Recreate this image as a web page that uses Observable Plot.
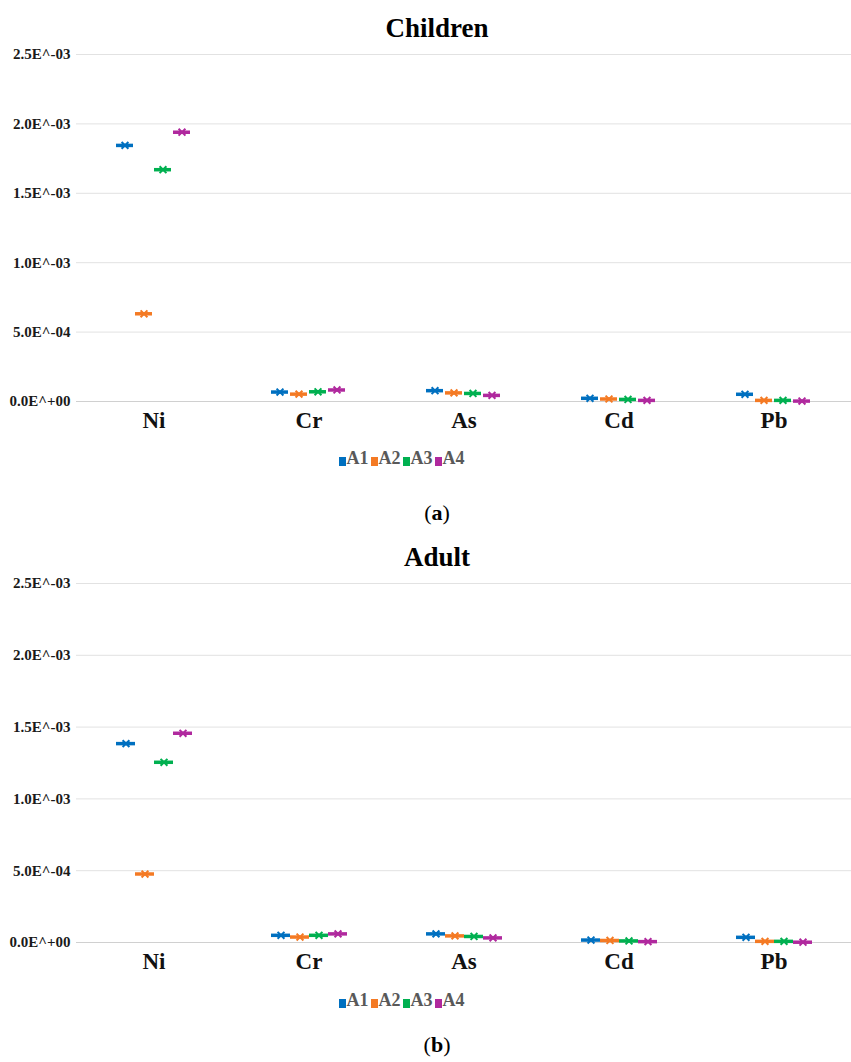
<!DOCTYPE html>
<html><head><meta charset="utf-8">
<script src="https://cdn.jsdelivr.net/npm/d3@7"></script>
<script src="https://cdn.jsdelivr.net/npm/@observablehq/plot@0.6"></script>
<style>
body{margin:0;background:#fff;}
#page{position:relative;width:851px;height:1062px;font-family:"Liberation Serif","Times New Roman",serif;}
.abs{position:absolute;left:0;}
.title{width:851px;padding-left:23px;box-sizing:border-box;text-align:center;font-weight:bold;font-size:27px;line-height:30px;color:#000;}
.legend{width:851px;display:flex;justify-content:center;align-items:center;font-weight:bold;font-size:18px;line-height:22px;color:#595959;padding-right:50px;box-sizing:border-box;}
.legend span.sw{display:inline-block;width:7px;height:9px;margin:0 1px 0 2px;position:relative;top:3px;}
.cap{width:851px;padding-left:23px;box-sizing:border-box;text-align:center;font-size:22px;line-height:26px;color:#000;}
svg text{font-family:"Liberation Serif","Times New Roman",serif;}
g[aria-label="y-axis tick label"] text{font-size:15px;font-weight:bold;fill:#1a1a1a;}
g[aria-label="fx-axis tick label"] text{font-size:23px;font-weight:bold;fill:#111;}
</style></head><body><div id="page"></div>
<script>
const categories = ["Ni", "Cr", "As", "Cd", "Pb"];
const series = ["A1", "A2", "A3", "A4"];
const colors = ["#0070C0", "#F47A24", "#00B050", "#B0299E"];
const yTicks = [0, 0.0005, 0.001, 0.0015, 0.002, 0.0025];

// Children (a)
const childrenA1 = [1.845e-3, 6.8e-5, 7.8e-5, 2.3e-5, 5.2e-5];
const childrenA2 = [6.32e-4, 5.3e-5, 6.2e-5, 1.8e-5, 8e-6];
const childrenA3 = [1.67e-3, 7.0e-5, 5.8e-5, 1.5e-5, 8e-6];
const childrenA4 = [1.94e-3, 8.3e-5, 4.4e-5, 8e-6, 3e-6];
// Adult (b)
const adultA1 = [1.385e-3, 5.0e-5, 6.0e-5, 1.7e-5, 3.6e-5];
const adultA2 = [4.77e-4, 3.8e-5, 4.6e-5, 1.4e-5, 8e-6];
const adultA3 = [1.255e-3, 5.0e-5, 4.2e-5, 1.1e-5, 8e-6];
const adultA4 = [1.457e-3, 6.0e-5, 3.2e-5, 6e-6, 2e-6];

function toRows(lists) {
  const rows = [];
  lists.forEach((vals, si) => vals.forEach((v, ci) => rows.push({cat: categories[ci], series: series[si], value: v})));
  return rows;
}
function fmt(d) {
  if (d === 0) return "0.0E^+00";
  const e = Math.floor(Math.log10(d) + 1e-9);
  const m = d / Math.pow(10, e);
  const ae = Math.abs(e);
  return m.toFixed(1) + "E^" + (e < 0 ? "-" : "+") + (ae < 10 ? "0" : "") + ae;
}

function chart(rows, height, marginBottom, tickW) {
  return Plot.plot({
    width: 851, height, marginLeft: 76, marginRight: 0, marginTop: 10, marginBottom,
    fx: {domain: categories, padding: 0, label: null},
    x: {domain: series, type: "band", paddingInner: tickW, paddingOuter: 2.0, axis: null},
    y: {domain: [0, 0.0025], label: null, axis: null},
    color: {domain: series, range: colors},
    marks: [
      Plot.ruleY(yTicks.slice(1), {stroke: "#e2e2e2", strokeWidth: 1}),
      Plot.ruleY([0], {stroke: "#d0d0d0", strokeWidth: 1.2}),
      Plot.axisY({ticks: yTicks, tickFormat: fmt, tickSize: 0, tickPadding: 6, label: null, line: true, stroke: "#e2e2e2", fill: "#222"}),
      Plot.axisFx({anchor: "bottom", tickSize: 0, tickPadding: 10, label: null}),
      Plot.tickY(rows, {fx: "cat", x: "series", y: "value", stroke: "series", strokeWidth: 3.5}),
      Plot.dot(rows, {fx: "cat", x: "series", y: "value", symbol: "times", r: 3.2, stroke: "series", strokeWidth: 2})
    ]
  });
}

function legend() {
  const d = document.createElement("div");
  d.className = "abs legend";
  series.forEach((s, i) => {
    const sw = document.createElement("span");
    sw.className = "sw"; sw.style.background = colors[i];
    d.appendChild(sw);
    d.appendChild(document.createTextNode(s));
  });
  return d;
}
function place(el, top) { el.style.top = top + "px"; el.classList.add("abs"); page.appendChild(el); return el; }
function textDiv(cls, html) { const d = document.createElement("div"); d.className = cls; d.innerHTML = html; return d; }

const page = document.getElementById("page");
place(textDiv("title", "Children"), 13);
place(chart(toRows([childrenA1, childrenA2, childrenA3, childrenA4]), 397, 40, 0.08), 44);
place(legend(), 447);
place(textDiv("cap", "(<b>a</b>)"), 500);
place(textDiv("title", "Adult"), 542);
place(chart(toRows([adultA1, adultA2, adultA3, adultA4]), 409, 40, 0.0), 573);
place(legend(), 989);
place(textDiv("cap", "(<b>b</b>)"), 1032);
</script>
</body></html>
